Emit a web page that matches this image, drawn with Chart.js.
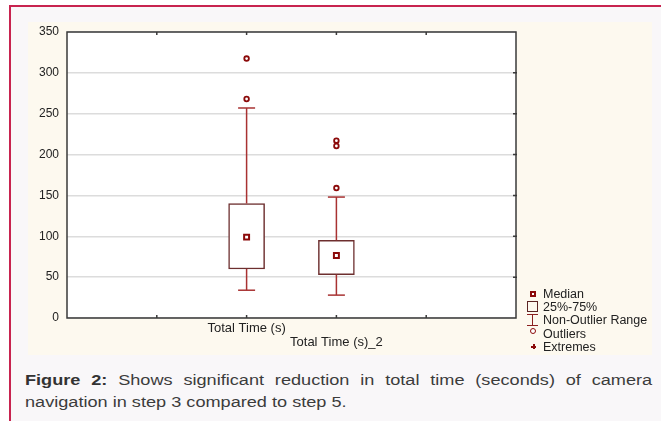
<!DOCTYPE html>
<html>
<head>
<meta charset="utf-8">
<script src="https://cdn.jsdelivr.net/npm/chart.js@4.4.0/dist/chart.umd.min.js"></script>
<style>
  body { margin: 0; width: 661px; height: 421px; overflow: hidden; position: relative; background: #fff; font-family: "Liberation Sans", Arial, sans-serif; }
  #frame { position: absolute; left: 9px; top: 5px; width: 700px; height: 460px; border-top: 2px solid #c8234f; border-left: 2px solid #c8234f; background: #f9f7f9; }
  #panel { position: absolute; left: 28px; top: 22px; width: 624px; height: 333px; background: #fdf9ef; }
  #panel canvas { position: absolute; left: 0; top: 0; }
  .leg { position: absolute; left: 543px; font-size: 12.5px; color: #222; line-height: 14px; height: 14px; white-space: nowrap; }
  .mk { position: absolute; box-sizing: border-box; }
  #caption { position: absolute; left: 25px; top: 369px; width: 536px; font-size: 15.5px; line-height: 22px; text-align: justify; color: #3c3c3c; transform: scaleX(1.17); transform-origin: 0 0; }
  #caption b { color: #333; }
</style>
</head>
<body>
<div id="frame"></div>
<div id="panel"><canvas id="box-canvas" width="624" height="333"></canvas></div>

<!-- legend -->
<div class="mk" style="left:530px;top:291px;width:6px;height:6px;border:2px solid #8b0a0a;background:#fff;"></div>
<div class="leg" style="top:287px;">Median</div>
<div class="mk" style="left:527px;top:301px;width:11px;height:11px;border:1.2px solid #5c2525;"></div>
<div class="leg" style="top:300px;">25%-75%</div>
<div class="mk" style="left:527px;top:314px;width:11px;height:1px;background:#8b2020;"></div>
<div class="mk" style="left:532px;top:314px;width:1px;height:12px;background:#8b2020;"></div>
<div class="mk" style="left:527px;top:325px;width:11px;height:1px;background:#8b2020;"></div>
<div class="leg" style="top:313px;">Non-Outlier Range</div>
<div class="mk" style="left:530px;top:328px;width:6px;height:6px;border:1.8px solid #8b0a0a;border-radius:50%;background:#fff;"></div>
<div class="leg" style="top:327px;">Outliers</div>
<div class="mk" style="left:531px;top:346px;width:5px;height:1.5px;background:#8b0a0a;"></div>
<div class="mk" style="left:533px;top:344px;width:1.5px;height:5px;background:#8b0a0a;"></div>
<div class="leg" style="top:340px;">Extremes</div>

<div id="caption"><b>Figure 2:</b> Shows significant reduction in total time (seconds) of camera navigation in step 3 compared to step 5.</div>

<script>
// x slots of the STATISTICA plot, categories sit on slots 2 and 3
const xTickLabels = ['', '', 'Total Time (s)', 'Total Time (s)_2', '', ''];
const categories = ['Total Time (s)', 'Total Time (s)_2'];
const q1 = [60, 53];
const q3 = [140, 95];
const medians = [99, 76.5];
const whiskerLow = [34, 28];
const whiskerHigh = [257, 148];
const outliers = [[317.5, 268], [159, 210.5, 217]];
const yTicks = [0, 50, 100, 150, 200, 250, 300, 350];

const boxColor = '#6d2f2f';
const whiskerColor = '#a83232';
const markColor = '#8b0a0a';

const slot = c => xTickLabels.indexOf(c);

const boxData = categories.map((c, i) => ({ x: slot(c), y: [q1[i], q3[i]] }));
const medianData = categories.map((c, i) => ({ x: slot(c), y: medians[i] }));
const capData = [];
const whiskerData = [];
const outlierData = [];
categories.forEach((c, i) => {
  const x = slot(c);
  capData.push({ x, y: whiskerLow[i] }, { x, y: whiskerHigh[i] });
  whiskerData.push({ x, y: whiskerLow[i] }, { x, y: q1[i] }, { x, y: null },
                   { x, y: q3[i] }, { x, y: whiskerHigh[i] }, { x, y: null });
  outliers[i].forEach(v => outlierData.push({ x, y: v }));
});

// white plot area, frame and small inner tick marks
const plotFrame = {
  id: 'plotFrame',
  beforeDraw(chart) {
    const { ctx, chartArea: a } = chart;
    ctx.save();
    ctx.fillStyle = '#fff';
    ctx.fillRect(a.left, a.top, a.right - a.left, a.bottom - a.top);
    ctx.restore();
  },
  afterDraw(chart) {
    const { ctx, chartArea: a, scales } = chart;
    ctx.save();
    ctx.strokeStyle = '#3a3a3a';
    ctx.lineWidth = 1.5;
    ctx.strokeRect(a.left, a.top, a.right - a.left, a.bottom - a.top);
    ctx.beginPath();
    for (let k = 1; k < xTickLabels.length - 1; k++) {
      const px = scales.x.getPixelForValue(k);
      ctx.moveTo(px, a.top); ctx.lineTo(px, a.top + 3);
      ctx.moveTo(px, a.bottom); ctx.lineTo(px, a.bottom - 3);
    }
    yTicks.slice(1, -1).forEach(v => {
      const py = scales.y.getPixelForValue(v);
      ctx.moveTo(a.right + 1, py); ctx.lineTo(a.right - 3, py);
    });
    ctx.stroke();
    ctx.restore();
  }
};

const ctx = document.getElementById('box-canvas').getContext('2d');
const chart = new Chart(ctx, {
  type: 'bar',
  data: {
    datasets: [
      {
        type: 'scatter',
        label: 'Median',
        data: medianData,
        pointStyle: 'rect',
        pointRadius: 3.5,
        pointBorderWidth: 2,
        pointBorderColor: markColor,
        pointBackgroundColor: '#fff'
      },
      {
        type: 'scatter',
        label: 'Outliers',
        data: outlierData,
        pointStyle: 'circle',
        pointRadius: 2.3,
        pointBorderWidth: 1.8,
        pointBorderColor: markColor,
        pointBackgroundColor: '#fff'
      },
      {
        type: 'scatter',
        label: 'Caps',
        data: capData,
        pointStyle: 'line',
        pointRadius: 8.5,
        pointBorderWidth: 1.5,
        pointBorderColor: whiskerColor
      },
      {
        type: 'line',
        label: 'Non-Outlier Range',
        data: whiskerData,
        borderColor: whiskerColor,
        borderWidth: 1.5,
        pointRadius: 0,
        spanGaps: false
      },
      {
        type: 'bar',
        label: '25%-75%',
        data: boxData,
        backgroundColor: '#fff',
        borderColor: boxColor,
        borderWidth: 1.5,
        borderSkipped: false,
        barThickness: 36
      }
    ]
  },
  options: {
    responsive: false,
    animation: false,
    events: [],
    layout: { padding: { top: 8, right: 136, left: 0, bottom: 0 } },
    plugins: { legend: { display: false }, tooltip: { enabled: false } },
    scales: {
      x: {
        type: 'linear',
        min: 0,
        max: xTickLabels.length - 1,
        offset: false,
        grid: { display: false, offset: false, drawTicks: false },
        border: { display: false },
        afterFit: s => { s.height = 37; s.paddingLeft = 0; s.paddingRight = 0; },
        afterBuildTicks: s => { s.ticks = xTickLabels.map((l, k) => ({ value: k })); },
        ticks: {
          padding: 4,
          maxRotation: 0,
          autoSkip: false,
          color: '#222',
          font: { family: '"Liberation Sans", Arial, sans-serif', size: 13, lineHeight: 1.05 },
          callback: (v) => {
            const l = xTickLabels[v] || '';
            // second category label is staggered one line down
            return l && xTickLabels.indexOf(l) % 2 === 1 ? ['', l] : l;
          }
        }
      },
      y: {
        min: 0,
        max: 350,
        afterFit: s => { s.width = 39; s.paddingTop = 0; s.paddingBottom = 0; },
        afterBuildTicks: s => { s.ticks = yTicks.map(v => ({ value: v })); },
        grid: { color: '#dcdcdc', lineWidth: 1.5, drawTicks: false },
        border: { display: false },
        ticks: {
          padding: 8,
          color: '#222',
          font: { family: '"Liberation Sans", Arial, sans-serif', size: 12 }
        }
      }
    }
  },
  plugins: [plotFrame]
});
</script>
</body>
</html>
